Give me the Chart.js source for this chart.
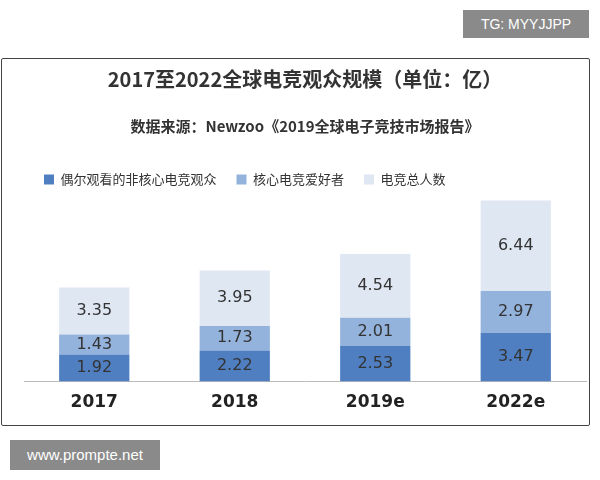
<!DOCTYPE html>
<html><head><meta charset="utf-8">
<script src="https://cdn.jsdelivr.net/npm/chart.js"></script>
<style>
body{margin:0;width:600px;height:480px;background:#fff;position:relative;font-family:"Noto Sans CJK SC",sans-serif;overflow:hidden}
#frame{position:absolute;left:1px;top:58px;width:587px;height:366px;border:1px solid #444;border-radius:2px}
#wrap{position:absolute;left:2px;top:59px;width:586px;height:365px}
#tg{position:absolute;left:463px;top:10px;width:126px;height:28px;background:#8a8a8a;color:#fff;font:14px "Liberation Sans",sans-serif;line-height:28px;text-align:center}
#www{position:absolute;left:10px;top:440px;width:150px;height:30px;background:#8a8a8a;color:#fff;font:15px "Liberation Sans",sans-serif;line-height:30px;text-align:center}
</style></head><body>
<div id="tg">TG: MYYJJPP</div>
<div id="frame"></div>
<div id="wrap"><canvas id="c"></canvas></div>
<div id="www">www.prompte.net</div>
<script>
const categories=["2017","2018","2019e","2022e"];
const casual=[1.92,2.22,2.53,3.47];
const core=[1.43,1.73,2.01,2.97];
const total=[3.35,3.95,4.54,6.44];
const seriesNames=["偶尔观看的非核心电竞观众","核心电竞爱好者","电竞总人数"];
const labelPlugin={id:'lbl',afterDatasetsDraw(ch){const ctx=ch.ctx;ctx.save();ctx.font='16px "DejaVu Sans",sans-serif';ctx.fillStyle='#333';ctx.textAlign='center';ctx.textBaseline='middle';
ch.data.datasets.forEach((d,i)=>{ch.getDatasetMeta(i).data.forEach((b,j)=>{const y=(b.y+b.base)/2;ctx.fillText(d.data[j].toFixed(2),b.x,y);});});ctx.restore();}};
new Chart(document.getElementById('c'),{type:'bar',
data:{labels:categories,datasets:[
{label:seriesNames[0],data:casual,backgroundColor:'#4f7fc1'},
{label:seriesNames[1],data:core,backgroundColor:'#93b2dc'},
{label:seriesNames[2],data:total,backgroundColor:'#dfe7f3'}]},
options:{responsive:true,maintainAspectRatio:false,animation:false,
layout:{padding:{left:22,right:2,bottom:8}},
datasets:{bar:{categoryPercentage:0.5,barPercentage:1}},
plugins:{title:{display:true,text:'2017至2022全球电竞观众规模（单位：亿）',color:'#333',font:{size:20,weight:'bold',family:'"Noto Sans CJK SC"'},padding:{top:8,bottom:26}},
subtitle:{display:true,text:'数据来源：Newzoo《2019全球电子竞技市场报告》',color:'#333',font:{size:15,weight:'bold',family:'"Noto Sans CJK SC"'},padding:{bottom:18}},
legend:{align:'start',labels:{boxWidth:10,boxHeight:10,color:'#333',font:{size:13,family:'"Noto Sans CJK SC"'},padding:20}},tooltip:{enabled:false}},
scales:{x:{stacked:true,grid:{display:false},border:{color:'#bbb'},ticks:{color:'#222',font:{size:17,weight:'bold',family:'"DejaVu Sans"'}}},
y:{stacked:true,display:false,min:0,max:13.2}}},plugins:[labelPlugin]});
</script></body></html>
